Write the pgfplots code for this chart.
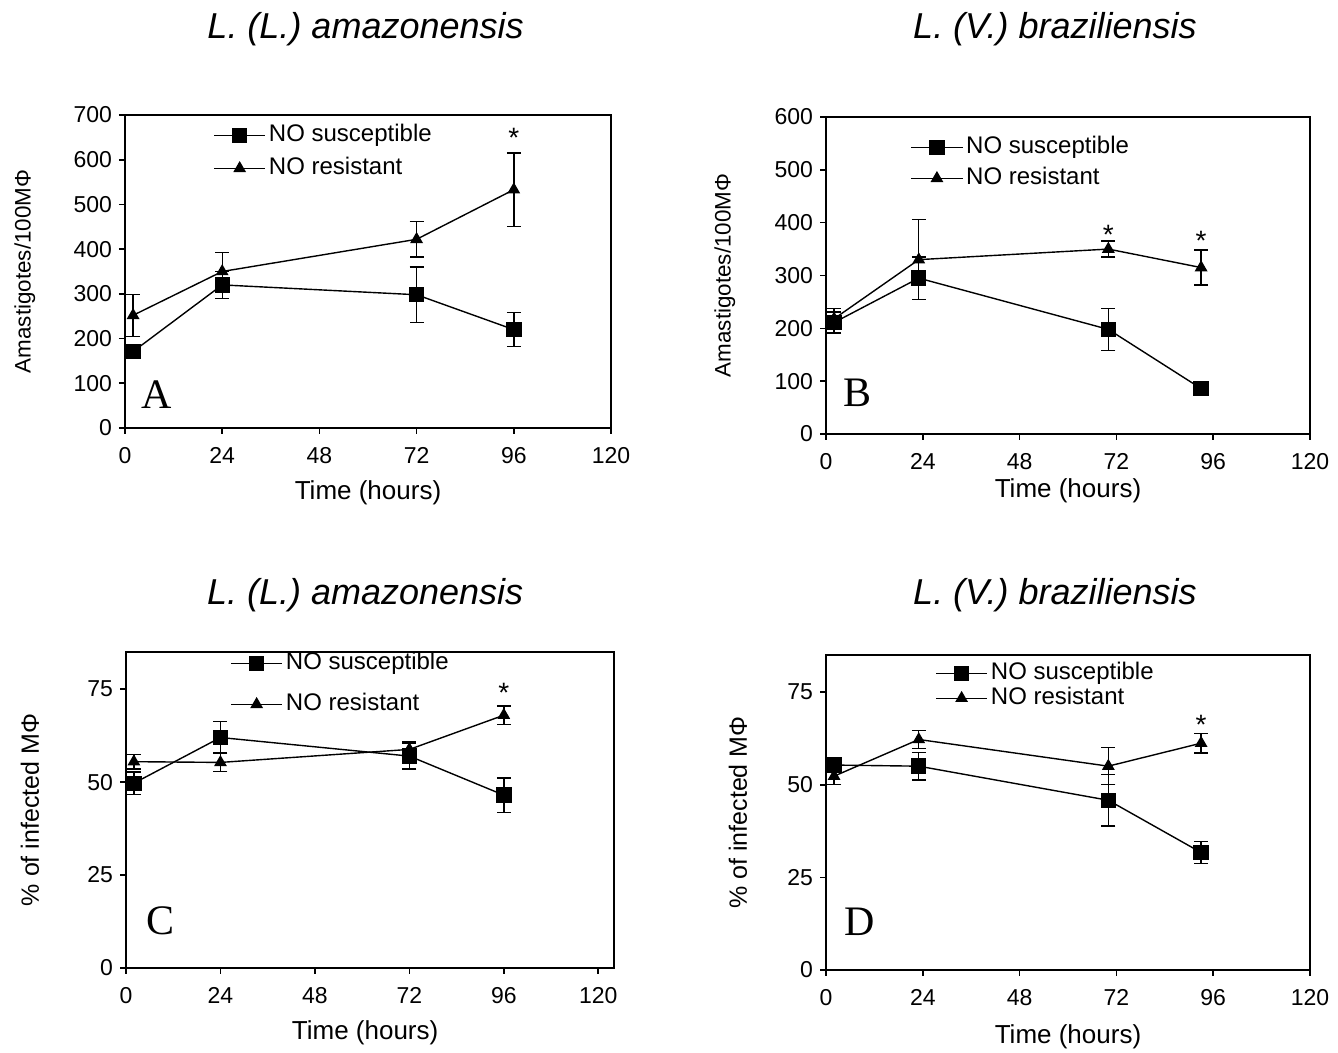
\documentclass[border=0pt]{standalone}
\usepackage{pgfplots}
\pgfplotsset{compat=1.18}
\usepackage{fontspec}
\setmainfont{Liberation Sans}
\newfontfamily\letterfont{Liberation Serif}

\pgfplotsset{
  panel/.style={
    scale only axis, xmin=0, xmax=120, ymin=0,
    xtick={0,24,48,72,96,120},
    tick align=outside, tick pos=left, major tick length=3pt,
    axis line style={line width=0.9pt},
    every tick/.style={black, line width=0.8pt},
    /pgf/number format/assume math mode=true,
    ticklabel style={font=\fontsize{11.5}{13}\selectfont},
    xticklabel style={yshift=-3pt},
    xlabel style={anchor=center, font=\fontsize{13}{15}\selectfont},
    ylabel style={anchor=center},
    title style={font=\fontsize{18}{21}\selectfont\itshape, anchor=center},
    legend style={draw=none, fill=none, inner sep=0pt, anchor=north west,
      font=\fontsize{12}{14}\selectfont,
      nodes={inner xsep=1.5pt, inner ysep=0pt, text height=8pt, text depth=2pt},
      cells={anchor=west}},
    legend image code/.code={\draw[mark repeat=2, mark phase=2]
      plot coordinates {(0cm,0cm)(0.45cm,0cm)(0.9cm,0cm)};},
    error bars/y dir=both, error bars/y explicit,
    error bars/error bar style={line width=0.7pt, solid},
    error bars/error mark options={rotate=90, mark size=3.5pt, line width=0.7pt},
  },
  sus/.style={black, line width=0.7pt, mark=square*, mark size=3.5pt},
  res/.style={black, line width=0.7pt, mark=triangle*, mark size=3pt},
}

\begin{document}
\begin{tikzpicture}
\path[use as bounding box] (0,0) rectangle (669pt,526.5pt);

% A
\begin{axis}[panel, at={(62.5pt,312.5pt)}, width=243pt, height=156.5pt,
  ymax=700, ytick={0,100,...,700},
  title={L. (L.) amazonensis}, title style={at={(axis description cs:0.495,1.236)}},
  xlabel={Time (hours)}, xlabel style={at={(axis description cs:0.5,-0.208)}},
  ylabel={Amastigotes/100MΦ},
  ylabel style={at={(axis description cs:-0.206,0.5)}, font=\fontsize{11.2}{13}\selectfont},
  legend style={at={(axis description cs:0.181,0.968)}, row sep=6.5pt}]
\addplot[sus] coordinates {(2,171) +- (0,10) (24,320) +- (0,30) (72,298) +- (0,62) (96,220) +- (0,38)};
\addplot[res] coordinates {(2,252) +- (0,47) (24,350) +- (0,42) (72,422) +- (0,40) (96,533) +- (0,82)};
\legend{NO susceptible, NO resistant}
\node[font=\letterfont\fontsize{21}{24}\selectfont] at (rel axis cs:0.065,0.105) {A};
\node[font=\fontsize{14}{16}\selectfont, anchor=base, yshift=-8pt] at (axis cs:96,664) {*};
\end{axis}

% B
\begin{axis}[panel, at={(413pt,309.5pt)}, width=242pt, height=158.5pt,
  ymax=600, ytick={0,100,...,600},
  title={L. (V.) braziliensis}, title style={at={(axis description cs:0.473,1.24)}},
  xlabel={Time (hours)}, xlabel style={at={(axis description cs:0.5,-0.18)}},
  ylabel={Amastigotes/100MΦ},
  ylabel style={at={(axis description cs:-0.209,0.5)}, font=\fontsize{11.2}{13}\selectfont},
  legend style={at={(axis description cs:0.174,0.937)}, row sep=5.5pt}]
\addplot[sus] coordinates {(2,211) +- (0,20) (23,295) +- (0,40) (70,198) +- (0,40) (93,86) +- (0,5)};
\addplot[res] coordinates {(2,218) +- (0,20) (23,330) +- (0,76) (70,350) +- (0,15) (93,315) +- (0,33)};
\legend{NO susceptible, NO resistant}
\node[font=\letterfont\fontsize{21}{24}\selectfont] at (rel axis cs:0.065,0.13) {B};
\node[font=\fontsize{14}{16}\selectfont, anchor=base, yshift=-8pt] at (axis cs:70,389) {*};
\node[font=\fontsize{14}{16}\selectfont, anchor=base, yshift=-8pt] at (axis cs:93,377) {*};
\end{axis}

% C
\begin{axis}[panel, at={(63pt,42.5pt)}, width=244pt, height=158pt,
  ymax=85, xmax=124, ytick={0,25,50,75},
  title={L. (L.) amazonensis}, title style={at={(axis description cs:0.49,1.143)}},
  xlabel={Time (hours)}, xlabel style={at={(axis description cs:0.49,-0.206)}},
  ylabel={\% of infected MΦ},
  ylabel style={at={(axis description cs:-0.197,0.5)}, font=\fontsize{12.5}{14}\selectfont},
  legend style={at={(axis description cs:0.213,0.997)}, row sep=10.5pt}]
\addplot[sus] coordinates {(2,49.7) +- (0,3) (24,62) +- (0,4.3) (72,57) +- (0,3.5) (96,46.5) +- (0,4.6)};
\addplot[res] coordinates {(2,55.5) +- (0,2) (24,55.3) +- (0,2.5) (72,58.8) +- (0,2) (96,68) +- (0,2.5)};
\legend{NO susceptible, NO resistant}
\node[font=\letterfont\fontsize{21}{24}\selectfont] at (rel axis cs:0.07,0.15) {C};
\node[font=\fontsize{14}{16}\selectfont, anchor=base, yshift=-8pt] at (axis cs:96,75.8) {*};
\end{axis}

% D
\begin{axis}[panel, at={(413pt,41.5pt)}, width=242pt, height=157.5pt,
  ymax=85, ytick={0,25,50,75},
  title={L. (V.) braziliensis}, title style={at={(axis description cs:0.473,1.153)}},
  xlabel={Time (hours)}, xlabel style={at={(axis description cs:0.5,-0.213)}},
  ylabel={\% of infected MΦ},
  ylabel style={at={(axis description cs:-0.182,0.5)}, font=\fontsize{12.5}{14}\selectfont},
  legend style={at={(axis description cs:0.225,0.975)}, row sep=2.5pt}]
\addplot[sus] coordinates {(2,55.3) +- (0,2) (23,55) +- (0,3.7) (70,45.8) +- (0,6.9) (93,31.7) +- (0,3)};
\addplot[res] coordinates {(2,52.3) +- (0,2.2) (23,62.2) +- (0,2.4) (70,55) +- (0,5) (93,61.2) +- (0,2.6)};
\legend{NO susceptible, NO resistant}
\node[font=\letterfont\fontsize{21}{24}\selectfont] at (rel axis cs:0.07,0.152) {D};
\node[font=\fontsize{14}{16}\selectfont, anchor=base, yshift=-8pt] at (axis cs:93,67.8) {*};
\end{axis}
\end{tikzpicture}
\end{document}
